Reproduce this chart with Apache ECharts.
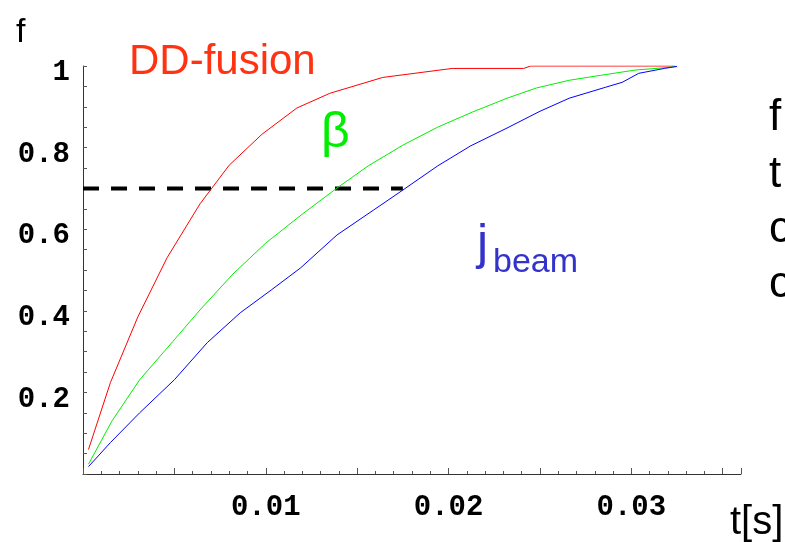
<!DOCTYPE html>
<html>
<head>
<meta charset="utf-8">
<script src="https://cdn.jsdelivr.net/npm/echarts@6/dist/echarts.min.js"></script>
<style>
  html, body { margin: 0; padding: 0; background: #fff; overflow: hidden; }
  #chart { width: 785px; height: 542px; }
</style>
</head>
<body>
<div id="chart"></div>
<script>
// Fraction f of the final value reached versus time t [s]
const tFusion = [0.0003, 0.0015, 0.0030, 0.0046, 0.0064, 0.0080, 0.0098, 0.0117, 0.0135, 0.0164, 0.0202, 0.0241, 0.0245, 0.0324];
const fFusion = [0.060, 0.224, 0.385, 0.530, 0.662, 0.757, 0.833, 0.897, 0.933, 0.972, 0.994, 0.994, 1.000, 1.000];

const tBeta = [0.0003, 0.0016, 0.0031, 0.0049, 0.0064, 0.0082, 0.0100, 0.0120, 0.0139, 0.0156, 0.0175, 0.0194, 0.0213, 0.0232, 0.0248, 0.0266, 0.0283, 0.0302, 0.0319, 0.0325];
const fBeta = [0.024, 0.131, 0.231, 0.324, 0.402, 0.490, 0.566, 0.637, 0.701, 0.755, 0.806, 0.850, 0.887, 0.921, 0.946, 0.965, 0.977, 0.990, 0.996, 0.999];

const tBeam = [0.0003, 0.0015, 0.0031, 0.0050, 0.0068, 0.0086, 0.0103, 0.0119, 0.0139, 0.0159, 0.0175, 0.0194, 0.0212, 0.0232, 0.0250, 0.0266, 0.0286, 0.0295, 0.0304, 0.0318, 0.0325];
const fBeam = [0.018, 0.077, 0.150, 0.231, 0.322, 0.395, 0.451, 0.505, 0.586, 0.647, 0.696, 0.755, 0.804, 0.848, 0.889, 0.921, 0.948, 0.960, 0.982, 0.994, 0.999];

// 70 % reference level, drawn up to where j_beam reaches it
const refLevel = 0.7;
const refEnd = 0.0175;

const xTickLabels = [0.01, 0.02, 0.03];
const yTickLabels = [0.2, 0.4, 0.6, 0.8, 1];

const zip = (xs, ys) => xs.map((x, i) => [x, ys[i]]);
const near = (v, list) => list.some(l => Math.abs(v - l) < 1e-9);

const chart = echarts.init(document.getElementById('chart'), null, { renderer: 'canvas' });

const tickFont = { fontFamily: 'Liberation Mono', fontWeight: 'bold', fontSize: 29, color: '#000' };
const axisColor = '#333';

chart.setOption({
  animation: false,
  backgroundColor: '#fff',
  grid: { left: 83, right: 44, top: 66, bottom: 68, containLabel: false },
  xAxis: {
    type: 'value',
    min: 0,
    max: 0.036,
    interval: 0.005,
    axisLine: { show: true, onZero: false, lineStyle: { color: axisColor, width: 1 } },
    axisTick: { show: true, inside: true, length: 6, lineStyle: { color: '#555' } },
    minorTick: { show: true, splitNumber: 5, length: 3, lineStyle: { color: '#555' } },
    splitLine: { show: false },
    axisLabel: Object.assign({
      margin: 19,
      formatter: v => near(v, xTickLabels) ? String(+v.toFixed(3)) : ''
    }, tickFont)
  },
  yAxis: {
    type: 'value',
    min: 0,
    max: 1,
    interval: 0.2,
    axisLine: { show: true, onZero: false, lineStyle: { color: axisColor, width: 1 } },
    axisTick: { show: true, inside: true, length: 4, lineStyle: { color: '#555' } },
    minorTick: { show: true, splitNumber: 4, length: 4, lineStyle: { color: '#555' } },
    splitLine: { show: false },
    axisLabel: Object.assign({
      margin: 13,
      verticalAlign: 'top',
      lineHeight: 14,
      formatter: v => near(v, yTickLabels) ? String(+v.toFixed(2)) : ''
    }, tickFont)
  },
  series: [
    {
      name: 'DD-fusion', type: 'line', data: zip(tFusion, fFusion),
      showSymbol: false, lineStyle: { color: '#ff0000', width: 1 }
    },
    {
      name: 'beta', type: 'line', data: zip(tBeta, fBeta),
      showSymbol: false, lineStyle: { color: '#00ee00', width: 1 }
    },
    {
      name: 'j_beam', type: 'line', data: zip(tBeam, fBeam),
      showSymbol: false, lineStyle: { color: '#0000ff', width: 1 }
    },
    {
      name: 'level', type: 'line', data: [[0, refLevel], [refEnd, refLevel]],
      showSymbol: false, z: 1,
      lineStyle: { color: '#000', width: 4, type: [16, 12] }
    }
  ],
  graphic: [
    { type: 'text', left: 16, top: 16, style: { text: 'f', font: '34px "Liberation Sans"', fill: '#000' } },
    { type: 'text', left: 730, top: 503, style: { text: 't[s]', font: '40px "Liberation Sans"', fill: '#000' } },
    { type: 'text', left: 129, top: 41, style: { text: 'DD-fusion', font: '42px "Liberation Sans"', fill: '#ff3311' } },
    { type: 'text', left: 321, top: 108, style: { text: 'β', font: '50px "Liberation Sans"', fill: '#00ee00' } },
    { type: 'text', left: 477, top: 220, style: { text: 'j', font: '50px "Liberation Sans"', fill: '#3333cc' } },
    { type: 'text', left: 493, top: 246, style: { text: 'beam', font: '34px "Liberation Sans"', fill: '#3333cc' } },
    { type: 'text', left: 769, top: 96, style: { text: 'f', font: '44px "Liberation Sans"', fill: '#000' } },
    { type: 'text', left: 769, top: 153, style: { text: 't', font: '44px "Liberation Sans"', fill: '#000' } },
    { type: 'text', left: 769, top: 208, style: { text: 'c', font: '44px "Liberation Sans"', fill: '#000' } },
    { type: 'text', left: 769, top: 263, style: { text: 'c', font: '44px "Liberation Sans"', fill: '#000' } }
  ]
});
</script>
</body>
</html>
